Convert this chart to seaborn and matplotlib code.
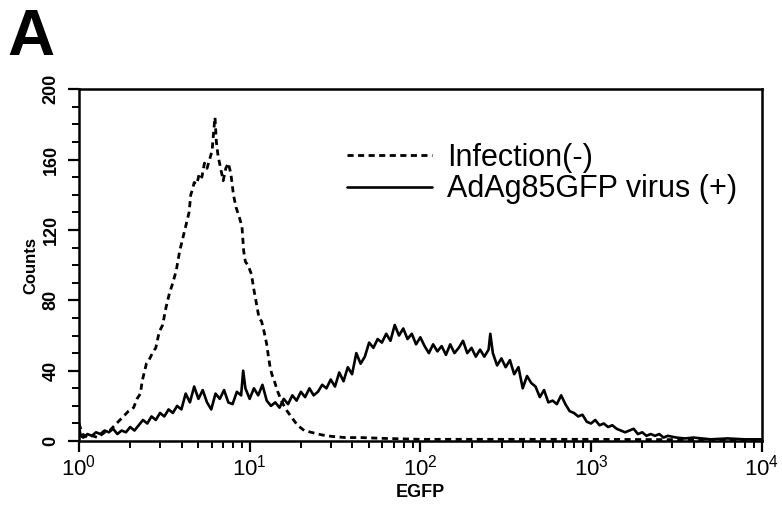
import numpy as np
import pandas as pd
import matplotlib
matplotlib.use("Agg")
import matplotlib.pyplot as plt
import matplotlib.ticker as mticker
import seaborn as sns

# log10(EGFP) channel positions and counts
log_egfp_neg = [0.000, 0.020, 0.050, 0.080, 0.110, 0.150, 0.180, 0.210, 0.230, 0.260,
                0.290, 0.320, 0.340, 0.360, 0.370, 0.380, 0.395, 0.410, 0.430, 0.450,
                0.470, 0.490, 0.510, 0.530, 0.550, 0.570, 0.590, 0.610, 0.630, 0.645,
                0.655, 0.665, 0.675, 0.690, 0.705, 0.720, 0.735, 0.750, 0.765, 0.780,
                0.790, 0.797, 0.805, 0.815, 0.830, 0.845, 0.860, 0.875, 0.890, 0.905,
                0.920, 0.940, 0.955, 0.965, 0.975, 0.990, 1.010, 1.025, 1.040, 1.055,
                1.070, 1.085, 1.100, 1.110, 1.120, 1.130, 1.145, 1.165, 1.190, 1.220,
                1.250, 1.280, 1.320, 1.360, 1.400, 1.450, 1.500, 1.560, 1.650, 1.800,
                2.000, 2.500, 3.000, 3.500, 4.000]
counts_neg = [10, 4, 2, 3, 2, 5, 6, 9, 11, 14,
              17, 19, 24, 27, 34, 38, 44, 46, 50, 53,
              62, 66, 76, 84, 90, 97, 108, 116, 124, 130,
              140, 143, 147, 146, 152, 150, 158, 155, 160, 165,
              177, 184, 170, 162, 155, 148, 155, 158, 152, 140,
              133, 127, 122, 108, 102, 100, 95, 86, 78, 70,
              68, 62, 55, 48, 42, 38, 34, 28, 22, 17,
              13, 9, 6, 5, 4, 3, 2.5, 2, 2, 1.5,
              1, 1, 1, 0.8, 0.5]

log_egfp_pos = [0.000, 0.010, 0.025, 0.050, 0.075, 0.100, 0.125, 0.150, 0.175, 0.200,
                0.225, 0.250, 0.275, 0.300, 0.325, 0.350, 0.375, 0.400, 0.425, 0.450,
                0.475, 0.500, 0.525, 0.550, 0.575, 0.600, 0.625, 0.650, 0.675, 0.700,
                0.725, 0.750, 0.775, 0.800, 0.825, 0.850, 0.875, 0.900, 0.925, 0.950,
                0.962, 0.975, 1.000, 1.025, 1.050, 1.075, 1.100, 1.125, 1.150, 1.175,
                1.200, 1.225, 1.250, 1.275, 1.300, 1.325, 1.350, 1.375, 1.400, 1.425,
                1.450, 1.475, 1.500, 1.525, 1.550, 1.575, 1.600, 1.625, 1.650, 1.675,
                1.700, 1.725, 1.750, 1.775, 1.800, 1.825, 1.850, 1.875, 1.900, 1.925,
                1.950, 1.975, 2.000, 2.025, 2.050, 2.075, 2.100, 2.125, 2.150, 2.175,
                2.200, 2.225, 2.250, 2.275, 2.300, 2.325, 2.350, 2.375, 2.400, 2.410,
                2.425, 2.450, 2.475, 2.500, 2.525, 2.550, 2.575, 2.600, 2.625, 2.650,
                2.675, 2.700, 2.725, 2.750, 2.775, 2.800, 2.825, 2.850, 2.875, 2.900,
                2.925, 2.950, 2.975, 3.000, 3.025, 3.050, 3.075, 3.100, 3.125, 3.150,
                3.175, 3.200, 3.225, 3.250, 3.275, 3.300, 3.325, 3.350, 3.375, 3.400,
                3.425, 3.450, 3.500, 3.550, 3.600, 3.700, 3.800, 3.900, 4.000]
counts_pos = [8, 3, 2, 4, 3, 5, 4, 6, 5, 7,
              4, 6, 5, 8, 6, 9, 12, 10, 14, 12,
              16, 14, 18, 16, 20, 18, 27, 22, 31, 24,
              29, 22, 18, 27, 24, 29, 22, 21, 28, 26,
              40, 30, 24, 30, 26, 32, 23, 20, 22, 19,
              24, 21, 26, 23, 28, 25, 30, 26, 28, 32,
              30, 35, 31, 39, 34, 42, 38, 50, 44, 48,
              56, 53, 58, 56, 61, 57, 66, 60, 64, 58,
              61, 55, 59, 54, 50, 55, 51, 54, 49, 55,
              50, 53, 57, 50, 53, 48, 52, 48, 52, 61,
              50, 43, 47, 42, 46, 38, 42, 30, 37, 33,
              31, 25, 29, 22, 23, 21, 26, 21, 17, 16,
              14, 15, 11, 10, 12, 9, 10, 8, 9, 7,
              6, 5, 6, 7, 4, 5, 3, 4, 3, 4,
              2, 3, 2, 1.5, 2, 1, 1.5, 1, 1]

label_neg = "Infection(-)"
label_pos = "AdAg85GFP virus (+)"

df_neg = pd.DataFrame({"EGFP": 10 ** np.array(log_egfp_neg), "Counts": counts_neg})
df_pos = pd.DataFrame({"EGFP": 10 ** np.array(log_egfp_pos), "Counts": counts_pos})

sns.set_style("ticks")
plt.rcParams["font.family"] = ["Liberation Sans", "DejaVu Sans"]
plt.rcParams["mathtext.fontset"] = "custom"
plt.rcParams["mathtext.rm"] = "Liberation Sans"
plt.rcParams["mathtext.default"] = "regular"
plt.rcParams["text.color"] = "black"
plt.rcParams["axes.labelcolor"] = "black"
plt.rcParams["xtick.color"] = "black"
plt.rcParams["ytick.color"] = "black"

fig, ax = plt.subplots(figsize=(7.82, 5.07), dpi=100)
fig.subplots_adjust(left=0.101, right=0.974, bottom=0.130, top=0.824)

ax.set_xscale("log")
sns.lineplot(data=df_neg, x="EGFP", y="Counts", ax=ax, color="black", lw=2.0,
             linestyle=(0, (2.2, 1.6)), label=label_neg)
sns.lineplot(data=df_pos, x="EGFP", y="Counts", ax=ax, color="black", lw=1.9,
             label=label_pos)

ax.set_xlim(1, 1e4)
ax.set_ylim(0, 200)
ax.set_yticks([0, 40, 80, 120, 160, 200])
ax.yaxis.set_minor_locator(mticker.MultipleLocator(10))
ax.xaxis.set_major_locator(mticker.LogLocator(base=10))
ax.xaxis.set_minor_locator(mticker.LogLocator(base=10, subs=np.arange(2, 10)))
ax.xaxis.set_minor_formatter(mticker.NullFormatter())
ax.xaxis.set_major_formatter(mticker.LogFormatterMathtext())

for s in ax.spines.values():
    s.set_linewidth(1.8)
    s.set_color("black")

ax.tick_params(axis="both", which="major", direction="out", length=8, width=1.6)
ax.tick_params(axis="both", which="minor", direction="out", length=5, width=1.4)
ax.tick_params(axis="x", labelsize=16, pad=2)
ax.tick_params(axis="y", labelsize=13, labelrotation=90, pad=6)
for t in ax.get_yticklabels():
    t.set_fontweight("bold")
    t.set_va("center")

ax.set_xlabel("EGFP", fontsize=13, fontweight="bold", labelpad=2)
ax.set_ylabel("Counts", fontsize=12, fontweight="bold", labelpad=3)

ax.legend(loc="upper left", bbox_to_anchor=(0.392, 0.848), frameon=False,
          fontsize=22, handlelength=2.8, handletextpad=0.5, labelspacing=0.05,
          borderpad=0, borderaxespad=0)

fig.text(0.010, 1 - 55 / 507, "A", fontsize=47, fontweight="bold", va="baseline")

fig.savefig("out.png", dpi=100)
